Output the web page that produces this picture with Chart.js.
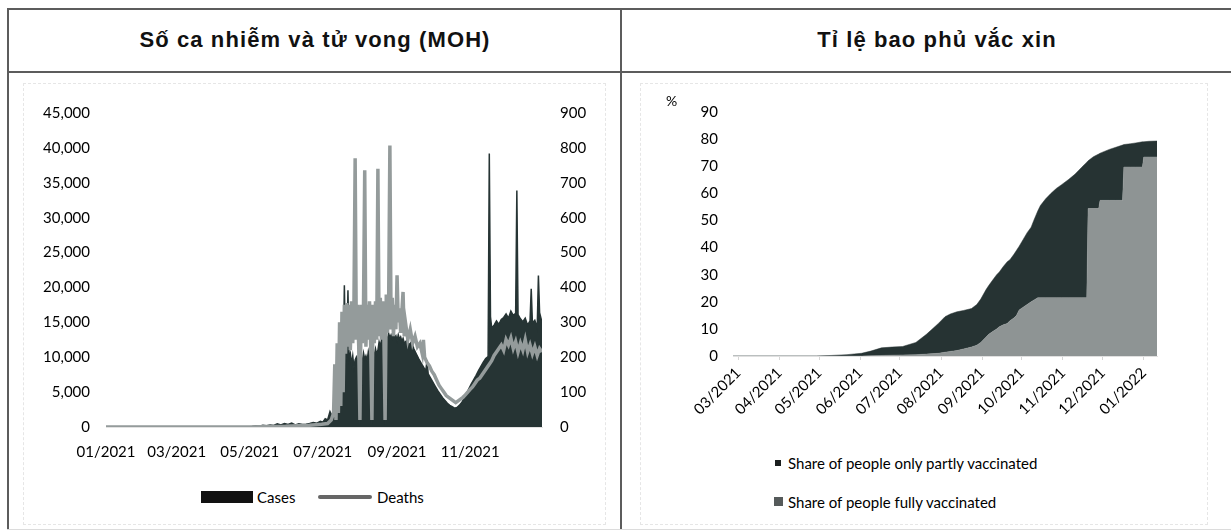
<!DOCTYPE html>
<html>
<head>
<meta charset="utf-8">
<script src="https://cdn.jsdelivr.net/npm/chart.js@4.4.1/dist/chart.umd.min.js"></script>
<style>
  body { margin: 0; width: 1231px; height: 532px; position: relative; overflow: hidden; background: #fff; font-family: Lato, sans-serif; color: #000; }
  .rule { position: absolute; background: #5c5c5c; }
  .title { position: absolute; top: 27px; font-family: "Liberation Sans", Arial, sans-serif; font-weight: bold; font-size: 22px; letter-spacing: 1.1px; color: #111; white-space: nowrap; transform: translateX(-50%); }
  .box { position: absolute; border: 1px dashed #e6e6e6; }
  canvas { position: absolute; }
  .lg { position: absolute; font-size: 15px; line-height: 18px; white-space: nowrap; color: #000; }
  .mark { position: absolute; }
</style>
</head>
<body>
<div class="rule" style="left:7px;top:8px;width:1224px;height:2px"></div>
<div class="rule" style="left:7px;top:71px;width:1224px;height:2px"></div>
<div class="rule" style="left:7px;top:8px;width:2px;height:522px"></div>
<div class="rule" style="left:620px;top:8px;width:2px;height:522px"></div>
<div class="rule" style="left:7px;top:529px;width:1224px;height:1px;background:#dcdcdc"></div>

<div class="title" style="left:315px">Số ca nhiễm và tử vong (MOH)</div>
<div class="title" style="left:937px">Tỉ lệ bao phủ vắc xin</div>

<div class="box" style="left:23px;top:83px;width:581px;height:440px"></div>
<div class="box" style="left:640px;top:83px;width:566px;height:440px"></div>

<canvas id="casesChart" width="581" height="397" style="left:23px;top:83px"></canvas>
<canvas id="vaxChart" width="566" height="337" style="left:640px;top:83px"></canvas>

<div class="lg" style="left:666px;top:92px;font-size:14px">%</div>

<div class="mark" style="left:201px;top:491px;width:52px;height:12px;background:#111"></div>
<div class="lg" style="left:257px;top:488px">Cases</div>
<div class="mark" style="left:318px;top:495px;width:54px;height:4px;background:#666;border-radius:2px"></div>
<div class="lg" style="left:377px;top:488px">Deaths</div>

<div class="mark" style="left:775px;top:460px;width:6px;height:6px;background:#1b1f1f"></div>
<div class="lg" style="left:788px;top:454px">Share of people only partly vaccinated</div>
<div class="mark" style="left:774px;top:497px;width:9px;height:9px;background:#555a5a"></div>
<div class="lg" style="left:788px;top:493px">Share of people fully vaccinated</div>

<script>
// left chart: day 0 = 01/01/2021
const caseDays = [0, 20, 40, 60, 80, 100, 110, 118, 122, 125, 128, 131, 134, 137, 140, 143, 146, 149, 152, 155, 158, 161, 164, 167, 170, 173, 176, 179, 181, 183, 185, 187, 189, 191, 192, 193, 194, 195, 196, 197, 198, 199, 200, 201, 202, 203, 204, 205, 206, 207, 208, 209, 210, 211, 212, 213, 214, 215, 216, 217, 218, 219, 220, 221, 222, 223, 224, 225, 226, 227, 228, 229, 230, 231, 232, 233, 234, 235, 236, 237, 238, 239, 240, 241, 242, 243, 244, 245, 246, 247, 248, 249, 251, 253, 255, 257, 259, 261, 263, 265, 267, 268, 269, 271, 273, 275, 277, 279, 281, 283, 285, 287, 289, 291, 293, 295, 297, 299, 301, 303, 305, 307, 309, 311, 313, 315, 317, 319, 320, 321, 322, 324, 326, 328, 330, 332, 334, 336, 338, 340, 342, 343, 344, 346, 348, 350, 352, 354, 355, 356, 358, 360, 361, 362, 364];
const cases = [0, 10, 0, 10, 5, 10, 20, 40, 80, 150, 100, 250, 180, 300, 220, 450, 300, 500, 350, 550, 300, 450, 350, 400, 500, 650, 550, 800, 700, 1200, 1000, 2200, 1500, 3000, 2200, 5500, 3200, 4500, 6000, 5200, 8000, 20300, 9500, 10200, 19600, 9800, 10500, 9000, 10200, 8500, 9600, 10000, 9200, 10400, 300, 9800, 9400, 10600, 9700, 10200, 9500, 10800, 9900, 10500, 300, 9600, 10300, 11200, 10400, 11000, 12200, 11600, 12500, 15800, 12400, 300, 13000, 12600, 13400, 12800, 13200, 12700, 13500, 12900, 13100, 12400, 13200, 12600, 12900, 12300, 12700, 12000, 12400, 11800, 12200, 11200, 10500, 9800, 9200, 8600, 8000, 9600, 7600, 7000, 6400, 5800, 5200, 4700, 4200, 3800, 3400, 3100, 2900, 2700, 2800, 3100, 3500, 4100, 4800, 5500, 6200, 6800, 7400, 8100, 8700, 9300, 9800, 10100, 39200, 15800, 14200, 14600, 15200, 14700, 15400, 15700, 16200, 15600, 16600, 16000, 16300, 33900, 16100, 15500, 15100, 15600, 14600, 15200, 19800, 14900, 15300, 14200, 21700, 16400, 15000];

const deathDays = [0, 60, 120, 150, 170, 180, 185, 188, 190, 191, 192, 193, 194, 195, 196, 197, 198, 199, 200, 201, 202, 203, 204, 205, 206, 207, 208, 209, 210, 211, 212, 213, 214, 215, 216, 217, 218, 219, 220, 221, 222, 223, 224, 225, 226, 227, 228, 229, 230, 231, 232, 233, 234, 235, 236, 237, 238, 239, 240, 241, 242, 243, 244, 245, 246, 247, 248, 249, 250, 252, 254, 256, 258, 260, 262, 264, 265, 266, 268, 270, 272, 274, 276, 278, 280, 282, 284, 286, 288, 290, 292, 294, 296, 298, 300, 302, 304, 306, 308, 310, 312, 314, 316, 318, 320, 322, 324, 326, 328, 330, 332, 334, 336, 338, 340, 342, 344, 346, 348, 350, 352, 354, 356, 358, 360, 362, 364];
const deaths = [0, 0, 0, 2, 5, 8, 10, 20, 40, 180, 20, 240, 40, 300, 60, 330, 100, 350, 210, 355, 230, 350, 220, 360, 240, 350, 770, 250, 350, 230, 20, 350, 240, 355, 736, 230, 350, 250, 360, 230, 20, 350, 240, 360, 250, 740, 260, 370, 250, 360, 260, 20, 380, 270, 370, 807, 280, 370, 260, 350, 280, 435, 300, 340, 270, 330, 387, 260, 300, 250, 280, 240, 260, 230, 240, 210, 250, 200, 185, 175, 160, 150, 135, 120, 110, 100, 90, 85, 80, 75, 70, 75, 80, 85, 92, 100, 108, 115, 125, 135, 140, 150, 160, 170, 180, 190, 205, 215, 225, 235, 220, 250, 235, 255, 225, 245, 215, 240, 220, 250, 215, 235, 210, 230, 205, 225, 215];

const caseTickDays = [0, 59, 120, 181, 243, 304];
const caseTickLabels = ['01/2021', '03/2021', '05/2021', '07/2021', '09/2021', '11/2021'];

// right chart: day 0 = 01/03/2021
const vaxDays = [-4, 30, 59, 70, 82, 93, 100, 108, 116, 124, 134, 142, 151, 156, 160, 165, 170, 176, 180, 183, 187, 189, 192, 195, 197, 200, 203, 205, 208, 210, 212, 215, 218, 221, 223, 226, 228, 232, 236, 240, 244, 249, 254, 259, 263, 264, 268, 272, 273, 274, 280, 285, 290, 291, 296, 300, 305, 306, 310, 316];
const fullyVax = [0, 0, 0, 0, 0, 0, 0.1, 0.2, 0.3, 0.4, 0.5, 0.7, 1, 1.4, 1.7, 2, 2.6, 3.3, 4, 5, 7, 8, 9, 10, 10.8, 11.5, 12, 13, 14, 15, 17, 18, 19, 20, 20.6, 21.5, 21.5, 21.5, 21.5, 21.5, 21.5, 21.5, 21.5, 21.5, 21.5, 54.4, 54.4, 54.4, 57.4, 57.4, 57.4, 57.4, 57.4, 69.7, 69.7, 69.7, 69.7, 73.4, 73.4, 73.4];
const partlyVax = [0, 0, 0, 0.2, 0.5, 1, 1.7, 2.8, 3, 3.1, 4.5, 7.3, 11, 13.1, 13.8, 14.3, 14.2, 14.2, 15, 16, 17.5, 18, 19, 20, 20.2, 21.5, 22.8, 22.5, 23.5, 24, 23.5, 25, 26.5, 27.5, 29.4, 32, 34, 36.5, 38.5, 40.3, 41.7, 43.5, 45.5, 48, 50, 17.6, 19.1, 20.1, 17.4, 17.6, 18.8, 19.6, 20.4, 8.3, 8.6, 8.9, 9.3, 5.6, 5.8, 5.9];

const vaxTickDays = [0, 31, 61, 92, 122, 153, 184, 214, 245, 275, 306];
const vaxTickLabels = ['03/2021', '04/2021', '05/2021', '06/2021', '07/2021', '08/2021', '09/2021', '10/2021', '11/2021', '12/2021', '01/2022'];

Chart.defaults.font.family = 'Lato';
Chart.defaults.font.size = 15;
Chart.defaults.color = '#000';

const pts = (xs, ys) => xs.map((x, i) => ({ x: x, y: ys[i] }));

new Chart(document.getElementById('casesChart'), {
    type: 'line',
    data: {
        datasets: [{
            label: 'Deaths',
            data: pts(deathDays, deaths),
            yAxisID: 'y1',
            borderColor: '#949b9b',
            borderWidth: 3.5,
            pointRadius: 0,
            tension: 0,
            fill: false
        }, {
            label: 'Cases',
            data: pts(caseDays, cases),
            yAxisID: 'y',
            borderColor: '#263434',
            backgroundColor: '#263434',
            borderWidth: 1.5,
            pointRadius: 0,
            tension: 0,
            fill: 'origin'
        }]
    },
    options: {
        responsive: false,
        animation: false,
        layout: { padding: { top: 30, left: 0, right: 0, bottom: 0 } },
        plugins: { legend: { display: false }, tooltip: { enabled: false } },
        scales: {
            x: {
                type: 'linear',
                min: 0,
                max: 364,
                afterBuildTicks: s => { s.ticks = caseTickDays.map(v => ({ value: v })); },
                afterFit: s => { s.height = 53; },
                ticks: {
                    autoSkip: false,
                    maxRotation: 0,
                    padding: 16,
                    callback: v => caseTickLabels[caseTickDays.indexOf(v)]
                },
                grid: { display: false, drawTicks: false },
                border: { display: true, color: '#e2e2e2' }
            },
            y: {
                position: 'left',
                min: 0,
                max: 45000,
                afterFit: s => { s.width = 83; },
                ticks: { stepSize: 5000, padding: 16, callback: v => v.toLocaleString('en-US') },
                grid: { display: false, drawTicks: false },
                border: { display: false }
            },
            y1: {
                position: 'right',
                min: 0,
                max: 900,
                afterFit: s => { s.width = 62; },
                ticks: { stepSize: 100, padding: 18 },
                grid: { display: false, drawTicks: false },
                border: { display: false }
            }
        }
    }
});

new Chart(document.getElementById('vaxChart'), {
    type: 'line',
    data: {
        datasets: [{
            label: 'Share of people fully vaccinated',
            data: pts(vaxDays, fullyVax),
            borderColor: '#8e9494',
            backgroundColor: '#8e9494',
            borderWidth: 0.5,
            pointRadius: 0,
            tension: 0,
            fill: 'origin'
        }, {
            label: 'Share of people only partly vaccinated',
            data: pts(vaxDays, partlyVax),
            borderColor: '#263333',
            backgroundColor: '#263333',
            borderWidth: 0.5,
            pointRadius: 0,
            tension: 0,
            fill: '-1'
        }]
    },
    options: {
        responsive: false,
        animation: false,
        layout: { padding: { top: 29, left: 0, right: 49, bottom: 0 } },
        plugins: { legend: { display: false }, tooltip: { enabled: false } },
        scales: {
            x: {
                type: 'linear',
                min: -4,
                max: 316,
                afterBuildTicks: s => { s.ticks = vaxTickDays.map(v => ({ value: v })); },
                afterFit: s => { s.height = 64; },
                ticks: {
                    autoSkip: false,
                    minRotation: 45,
                    maxRotation: 45,
                    padding: 4,
                    callback: v => vaxTickLabels[vaxTickDays.indexOf(v)]
                },
                grid: { display: true, drawOnChartArea: false, drawTicks: true, tickLength: 4, color: '#d6d6d6' },
                border: { display: true, color: '#e0e0e0' }
            },
            y: {
                stacked: true,
                min: 0,
                max: 90,
                afterFit: s => { s.width = 93; },
                ticks: { stepSize: 10, padding: 15 },
                grid: { display: false, drawTicks: false },
                border: { display: false }
            }
        }
    }
});
</script>
</body>
</html>
